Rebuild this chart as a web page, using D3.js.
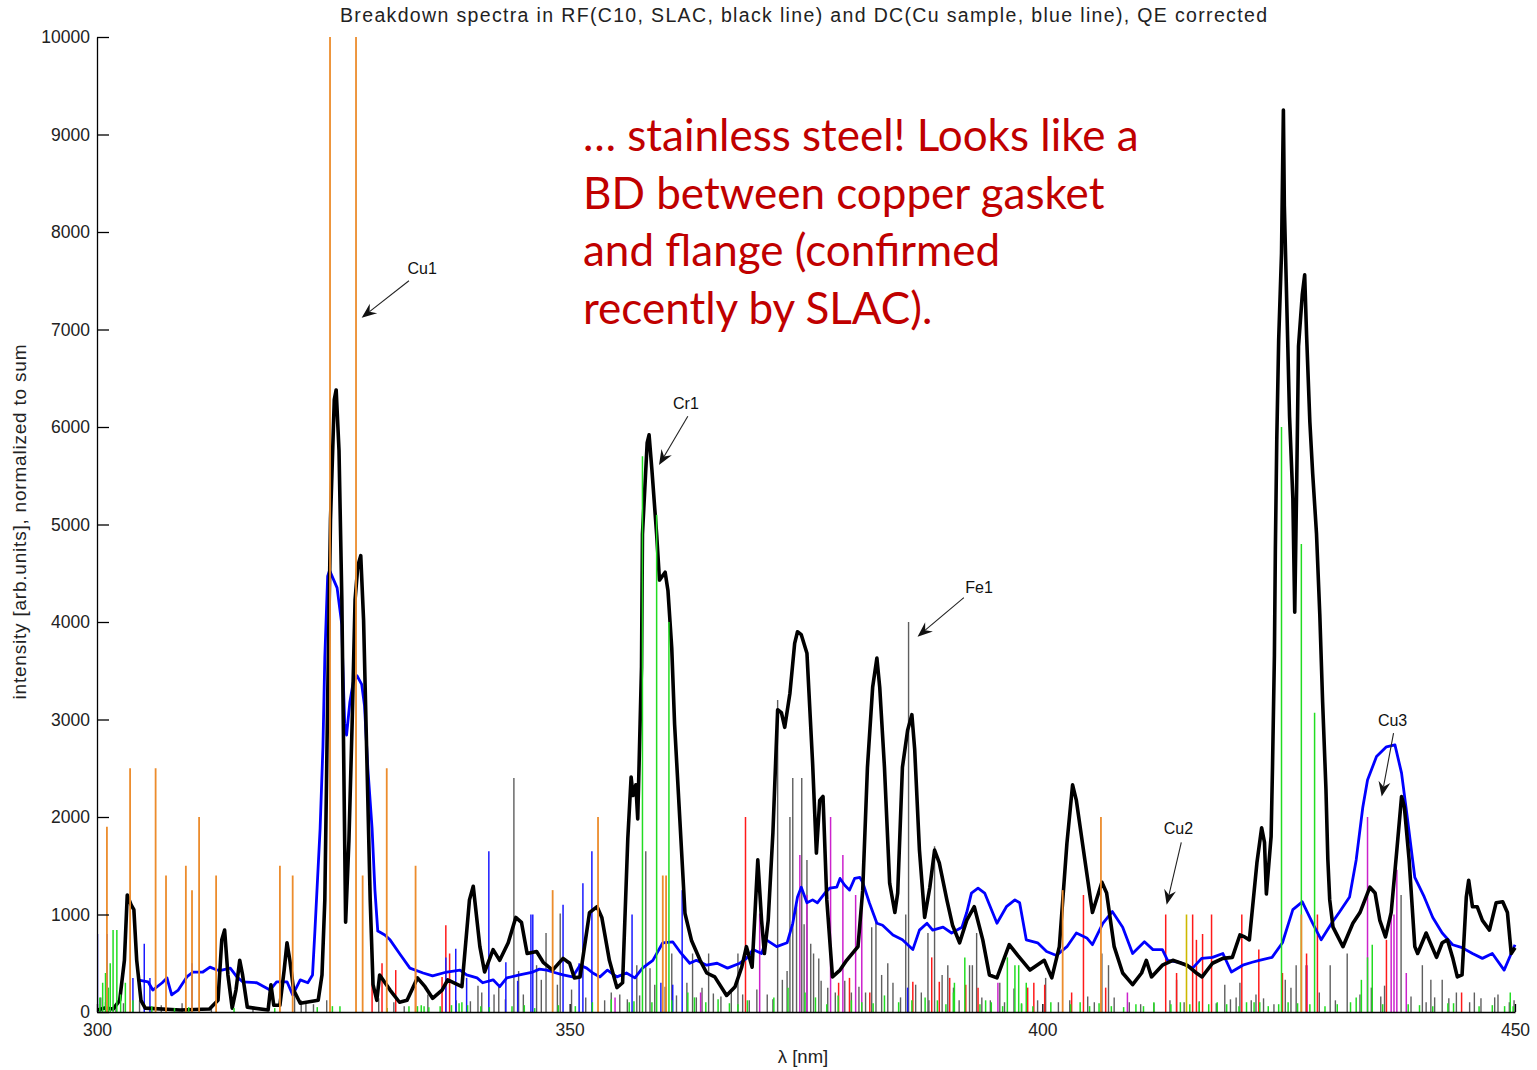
<!DOCTYPE html>
<html>
<head>
<meta charset="utf-8">
<script src="https://cdn.jsdelivr.net/npm/d3@7"></script>
<style>
  html, body { margin: 0; padding: 0; background: #fff; }
  svg { display: block; }
  .axis text { font-family: "Liberation Sans", Arial, sans-serif; font-size: 17.5px; fill: #222; }
  .axis path, .axis line { stroke: #000; stroke-width: 1.3px; }
</style>
</head>
<body>
<svg id="chart" width="1537" height="1070"></svg>
<script>
// ---- spectra: [wavelength nm, intensity] ----
const rfSpectrum = [
  [300.0,20],[300.85,40],[301.7,30],[302.4,120],[302.9,530],[303.2,1200],[303.6,1100],[303.9,1050],
  [304.2,530],[304.65,120],[305.1,40],[308.8,20],[311.9,30],[312.8,120],[313.2,740],[313.5,840],
  [313.85,380],[314.3,40],[314.7,225],[315.1,530],[315.4,380],[315.9,50],[318.1,20],[318.4,280],
  [318.7,70],[319.35,70],[319.8,430],[320.1,710],[320.4,530],[320.8,225],[321.5,90],[323.4,120],
  [323.8,380],[324.1,1150],[324.4,3200],[324.7,5050],[325.1,6280],[325.3,6380],[325.6,5760],
  [325.9,4230],[326.1,2580],[326.3,920],[326.65,1760],[327.0,3000],[327.3,4230],[327.6,4580],
  [327.9,4680],[328.2,4020],[328.55,2580],[328.9,1150],[329.2,280],[329.6,120],[329.9,380],
  [331.0,225],[332.0,100],[332.8,120],[333.9,350],[334.7,260],[335.5,140],[336.5,225],[337.1,330],
  [338.6,260],[339.4,1150],[339.8,1290],[340.5,670],[341.0,410],[341.9,640],[342.6,530],[343.5,710],
  [344.3,970],[344.9,920],[345.5,600],[346.5,620],[347.2,510],[348.2,430],[349.3,550],[350.0,500],
  [350.5,350],[351.1,360],[352.1,1020],[352.9,1080],[353.4,970],[354.2,530],[355.0,250],[355.6,300],
  [356.15,1780],[356.5,2410],[356.7,2220],[357.0,2330],[357.2,1980],[357.6,3540],[357.7,4900],
  [358.2,5840],[358.4,5920],[358.7,5560],[359.2,4900],[359.5,4430],[360.1,4510],[360.4,4320],
  [360.8,3730],[361.1,2950],[361.65,1980],[362.2,1010],[362.9,730],[363.8,530],[364.5,400],
  [365.35,360],[366.6,170],[367.5,260],[368.2,460],[368.7,670],[369.3,460],[369.9,1560],[370.3,940],
  [370.6,600],[371.0,940],[371.5,1840],[372.0,3100],[372.4,3070],[372.75,2920],[373.3,3270],
  [373.8,3780],[374.1,3900],[374.5,3870],[375.1,3680],[375.7,2550],[376.1,1630],[376.45,2170],
  [376.8,2210],[377.2,1150],[377.8,360],[378.6,430],[379.3,530],[380.5,670],[381.0,1250],[381.5,2510],
  [382.05,3330],[382.5,3630],[382.8,3330],[383.3,2510],[383.85,1320],[384.4,1020],[384.7,1220],
  [385.2,2510],[385.75,2890],[386.2,3050],[386.5,2690],[387.0,1660],[387.55,970],[388.1,1280],
  [388.6,1660],[389.1,1530],[389.9,1150],[390.5,890],[391.25,710],[392.0,940],[392.8,1080],[393.7,740],
  [394.4,380],[395.2,350],[396.5,690],[397.4,580],[398.7,430],[400.2,530],[401.0,350],[401.8,670],
  [402.6,1730],[403.2,2330],[403.6,2170],[404.5,1560],[405.3,1020],[406.3,1330],[406.8,1220],
  [407.6,670],[408.5,400],[409.55,280],[410.5,400],[411.0,530],[411.55,360],[412.7,480],[413.8,530],
  [415.3,480],[416.3,400],[416.9,360],[418.0,500],[419.1,550],[420.1,560],[420.9,790],[421.4,770],
  [421.9,740],[422.7,1530],[423.2,1890],[423.5,1740],[423.7,1210],[424.2,1800],[424.35,2520],
  [424.55,3660],[424.65,4740],[424.8,5870],[425.0,6890],[425.3,7780],[425.5,9250],[425.6,8270],
  [425.8,7490],[426.15,6110],[426.5,5270],[426.7,4100],[426.9,5380],[427.1,6830],[427.5,7360],
  [427.75,7560],[427.95,6950],[428.3,6050],[428.6,5520],[429.0,4910],[429.35,4080],[429.65,3180],
  [430.0,2290],[430.2,1570],[430.4,1150],[430.75,870],[431.8,670],[432.85,910],[433.6,1020],
  [434.65,1280],[435.2,1220],[435.7,940],[436.3,770],[436.9,1020],[437.5,1660],[438.0,2210],
  [438.3,2100],[438.8,1560],[439.4,670],[439.7,600],[440.6,810],[441.7,560],[442.3,710],[442.85,740],
  [443.4,560],[443.9,360],[444.4,380],[444.85,1180],[445.1,1350],[445.5,1080],[446.0,1080],
  [446.55,940],[447.3,840],[448.0,1120],[448.7,1130],[449.2,1020],[449.6,600],[450.0,660]
];

const dcSpectrum = [
  [304.3,330],[305.4,310],[305.9,225],[306.9,300],[307.4,350],[307.9,175],[308.6,225],[309.5,360],
  [310.15,410],[311.2,410],[311.95,460],[312.7,430],[313.2,430],[314.1,450],[314.8,360],[315.4,310],
  [316.9,300],[318.3,225],[319.0,310],[320.1,310],[320.7,175],[321.5,330],[322.3,300],[322.8,380],
  [323.05,830],[323.6,1880],[323.9,2720],[324.1,3640],[324.4,4470],[324.6,4530],[325.4,4350],
  [325.9,3970],[326.0,3560],[326.2,2960],[326.4,2840],[326.75,3180],[327.1,3380],[327.5,3450],
  [328.0,3360],[328.3,3140],[328.65,2500],[329.1,1880],[329.4,1250],[329.7,830],[329.9,820],
  [330.45,790],[331.0,740],[332.0,600],[333.1,450],[334.5,400],[335.5,370],[337.0,410],[338.4,430],
  [339.1,380],[340.2,350],[340.8,300],[341.9,330],[342.6,260],[343.35,350],[344.7,380],[346.1,410],
  [346.8,440],[347.6,430],[348.2,410],[349.3,380],[350.3,360],[351.1,480],[351.8,450],[352.45,400],
  [353.2,360],[354.0,430],[355.0,360],[356.0,400],[356.9,350],[357.7,450],[358.8,530],[359.85,710],
  [360.9,720],[361.65,620],[362.7,500],[363.4,530],[364.5,480],[365.6,500],[366.7,450],[368.0,500],
  [368.7,550],[369.4,640],[370.3,600],[370.8,740],[371.9,670],[373.0,710],[373.6,910],[374.1,1180],
  [374.5,1280],[375.1,1120],[375.7,1150],[376.2,1120],[377.0,1220],[377.5,1270],[378.25,1280],
  [378.6,1370],[379.1,1300],[379.6,1250],[380.15,1370],[380.7,1380],[381.0,1330],[381.7,1120],
  [382.5,910],[383.1,890],[384.2,790],[385.2,740],[386.3,640],[387.0,840],[387.8,910],[388.4,840],
  [389.5,870],[390.4,810],[391.5,870],[392.0,1020],[392.5,1220],[393.2,1270],[393.9,1220],[395.2,910],
  [396.2,1080],[397.1,1150],[397.6,1120],[398.3,740],[399.5,710],[400.45,620],[401.5,580],[402.6,670],
  [403.6,810],[404.7,760],[405.3,690],[406.4,910],[407.4,1030],[408.5,870],[409.55,600],[410.8,720],
  [411.7,640],[412.7,640],[413.25,530],[414.5,510],[415.9,450],[416.85,550],[418.0,560],[419.1,600],
  [420.0,410],[421.2,480],[422.2,510],[422.95,530],[424.3,560],[425.4,710],[426.5,1050],[427.5,1130],
  [428.6,910],[429.5,740],[430.6,910],[431.4,1020],[432.5,1180],[433.2,1560],[433.9,2100],[434.4,2380],
  [435.35,2620],[436.4,2720],[437.3,2740],[438.0,2450],[438.6,2000],[439.4,1380],[440.4,1180],
  [441.3,970],[442.3,810],[443.4,690],[444.4,660],[445.5,600],[446.55,550],[447.6,600],[448.85,430],
  [449.6,600],[450.0,690]
];

// ---- reference line lists: [wavelength nm, relative intensity] ----
const orangeLines = [
  [301.05,1900],[303.5,2500],[306.2,2500],[307.3,1400],[309.4,1500],[310.05,1250],[310.8,2000],
  [312.6,1400],[319.35,1500],[320.7,1400],[324.65,12000],[327.4,12000],[328.1,1400],[330.65,2500],
  [333.7,1500],[348.2,1250],[353.0,2000],[359.85,1400],[360.2,1400],[402.15,1250],[406.2,2000],
  [427.4,1000]
];
const yellowLines = [[415.25,1000]];
const greenLines = [
  [300.3,150],[300.6,300],[300.9,400],[301.2,250],[301.4,500],[301.7,840],[302.1,840],[302.5,180],
  [303.0,300],[303.8,120],[305.8,60],[308.2,40],[309.7,50],[314.5,40],[318.8,40],[323.3,50],[324.9,60],
  [325.7,60],[330.7,40],[333.0,60],[333.9,60],[334.3,70],[334.6,60],[335.1,50],[336.3,60],[337.5,70],
  [338.3,90],[338.6,100],[339.2,70],[340.6,60],[341.5,50],[343.9,60],[345.2,70],[346.3,40],[348.8,70],
  [350.6,60],[352.4,100],[354.4,130],[356.3,100],[356.8,110],[357.7,5700],[358.7,100],[359.2,5100],
  [360.5,4000],[360.8,120],[362.5,200],[363.2,150],[364.4,100],[365.7,130],[366.9,90],[367.8,80],
  [368.8,120],[371.6,150],[373.1,250],[374.9,200],[376.0,150],[377.2,80],[378.4,170],[379.8,120],
  [380.9,100],[382.1,90],[383.3,170],[384.8,100],[386.2,120],[387.6,150],[388.9,120],[389.8,80],
  [390.6,200],[390.7,300],[391.8,560],[393.4,80],[394.0,120],[394.6,100],[395.8,60],[396.3,560],
  [397.1,480],[397.5,480],[397.8,90],[398.3,300],[399.0,60],[400.9,100],[403.0,80],[404.0,100],
  [405.0,60],[406.0,90],[407.3,60],[408.6,50],[409.9,80],[410.7,60],[411.8,100],[413.6,80],[414.6,100],
  [415.6,80],[416.6,100],[417.6,80],[418.5,100],[419.5,80],[420.8,60],[421.6,100],[422.4,100],
  [423.0,100],[423.9,60],[425.0,80],[425.3,6000],[426.0,100],[427.0,90],[427.4,4800],[428.3,80],
  [428.8,3070],[429.9,60],[431.2,80],[432.6,100],[433.2,150],[433.75,330],[434.4,560],[434.9,690],
  [436.0,80],[438.7,80],[439.9,70],[441.3,60],[442.9,90],[443.5,90],[446.2,60],[447.6,70],[448.9,60],
  [449.5,200],[449.8,60]
];
const redLines = [
  [329.1,650],[330.15,500],[331.6,430],[333.7,430],[336.5,360],[336.9,890],[337.3,600],[368.6,2000],
  [378.45,300],[379.6,350],[381.75,200],[386.3,310],[388.3,560],[389.1,310],[390.2,350],[391.9,280],
  [393.2,250],[398.45,250],[399.1,300],[400.25,280],[403.1,200],[404.35,1200],[406.7,250],[413.05,1000],
  [414.2,400],[415.9,1000],[416.3,740],[416.95,800],[417.9,1000],[421.1,1000],[422.9,640],[425.4,400],
  [427.95,600],[429.1,1000],[436.4,740],[444.35,200]
];
const blueLines = [
  [300.05,800],[301.05,800],[303.8,350],[305.0,700],[305.6,350],[310.05,500],[336.9,560],[337.95,650],
  [339.1,350],[341.45,1650],[343.25,510],[344.5,320],[345.9,1000],[346.1,1000],[349.3,1100],[351.0,500],
  [351.4,1320],[352.35,1650],[356.6,1000],[359.65,300],[360.9,280],[361.9,1250],[385.75,250]
];
const grayLines = [
  [300.4,150],[300.9,100],[302.0,80],[302.8,90],[304.5,120],[306.8,70],[309.0,90],[312.1,60],[316.5,50],
  [320.9,200],[321.6,120],[322.1,90],[322.9,80],[324.3,120],[329.8,140],[331.4,100],[332.5,60],
  [335.0,180],[338.0,120],[339.5,110],[340.3,270],[340.7,200],[342.0,180],[342.5,260],[343.2,130],
  [344.1,2400],[344.6,420],[345.1,180],[346.5,480],[347.0,330],[347.5,810],[348.7,280],[349.0,1010],
  [350.2,230],[351.7,150],[353.7,120],[354.4,200],[355.3,180],[356.1,130],[357.1,480],[357.4,170],
  [358.05,1650],[358.5,450],[359.0,280],[360.1,260],[360.8,600],[361.3,170],[362.4,300],[363.0,600],
  [363.4,150],[364.0,250],[364.7,600],[365.2,190],[366.0,160],[367.1,210],[367.8,600],[368.3,180],
  [369.0,120],[369.8,230],[370.9,180],[371.5,130],[372.0,3200],[372.5,330],[373.0,420],[373.3,2000],
  [373.6,2400],[374.0,1100],[374.55,2400],[374.8,900],[375.1,1560],[375.5,700],[375.8,600],[376.35,550],
  [376.6,320],[377.3,250],[378.1,200],[379.1,320],[379.8,200],[380.6,260],[381.3,200],[381.95,870],
  [382.4,940],[383.0,380],[383.65,500],[384.2,300],[385.0,150],[385.55,1000],[385.85,4000],[386.6,280],
  [387.2,200],[387.9,810],[388.0,120],[388.6,1700],[389.4,380],[390.0,480],[390.6,250],[391.2,120],
  [392.3,480],[392.6,480],[393.05,810],[393.6,150],[394.5,120],[395.5,300],[396.0,100],[397.0,240],
  [397.8,80],[399.5,120],[400.35,350],[401.7,100],[402.9,120],[404.8,160],[405.5,100],[406.3,600],
  [407.0,480],[407.6,150],[409.2,100],[410.4,80],[411.8,90],[413.5,120],[414.2,330],[415.0,100],
  [416.6,110],[418.4,90],[419.3,280],[419.9,130],[420.5,150],[420.9,300],[422.1,120],[422.6,180],
  [423.4,140],[424.5,80],[425.7,330],[426.3,250],[426.85,480],[427.9,480],[429.3,200],[430.45,480],
  [431.0,120],[432.25,600],[433.6,180],[434.8,250],[435.8,160],[436.2,270],[437.95,1200],[439.0,160],
  [440.2,480],[440.6,100],[441.1,330],[441.5,150],[442.3,330],[443.0,140],[443.8,200],[445.2,100],
  [445.7,200],[446.4,140],[447.85,150],[448.2,180],[449.4,100],[449.9,120]
];
const magentaLines = [
  [354.8,150],[363.85,200],[370.1,1010],[374.35,1610],[375.1,1200],[377.6,2000],[378.9,1610],
  [380.25,1200],[380.9,1200],[395.3,300],[409.0,200],[428.0,480],[434.4,2000],[436.9,1000],
  [437.2,1000],[437.5,1460],[438.5,400]
];

// ---- peak labels: [label, text λ, text I, arrow-tail λ, arrow-tail I, arrow-tip λ, arrow-tip I] ----
const peakLabels = [
  ["Cu1", 334.4, 7630, 333.0, 7500, 328.0, 7120],
  ["Cr1", 362.3, 6250, 362.5, 6110, 359.45, 5610],
  ["Fe1", 393.3, 4360, 391.7, 4250, 386.8, 3850],
  ["Cu2", 414.4, 1890, 414.7, 1740, 413.15, 1100],
  ["Cu3", 437.05, 2990, 437.15, 2860, 435.9, 2210]
];

const noteLines = [
  "\u2026 stainless steel! Looks like a",
  "BD between copper gasket",
  "and flange (confirmed",
  "recently by SLAC)."
];

const titleText = "Breakdown spectra in RF(C10, SLAC, black line) and DC(Cu sample, blue line), QE corrected";
const yLabelText = "intensity [arb.units], normalized to sum";
const xLabelText = "\u03bb [nm]";
const xTicks = [300, 350, 400, 450];
const yTicks = [0, 1000, 2000, 3000, 4000, 5000, 6000, 7000, 8000, 9000, 10000];

// ---- layout ----
const svg = d3.select("#chart");
const plot = { left: 97, right: 1515, top: 37, bottom: 1012 };

const x = d3.scaleLinear().domain([300, 450]).range([plot.left, plot.right]);
const y = d3.scaleLinear().domain([0, 10000]).range([plot.bottom, plot.top]);

svg.append("defs").append("clipPath").attr("id", "plotClip")
  .append("rect")
  .attr("x", plot.left).attr("y", plot.top)
  .attr("width", plot.right - plot.left + 2).attr("height", plot.bottom - plot.top);

const g = svg.append("g").attr("clip-path", "url(#plotClip)");

function drawSticks(data, color, width) {
  g.append("g").selectAll("line").data(data).join("line")
    .attr("x1", d => x(d[0])).attr("x2", d => x(d[0]))
    .attr("y1", y(0)).attr("y2", d => y(d[1]))
    .attr("stroke", color).attr("stroke-width", width);
}

drawSticks(grayLines, "#5f5f5f", 1.4);
drawSticks(magentaLines, "#cc22cc", 1.5);
drawSticks(redLines, "#ff1a1a", 1.5);
drawSticks(blueLines, "#1a1aff", 1.5);

const line = d3.line().x(d => x(d[0])).y(d => y(d[1]));

g.append("path").datum(dcSpectrum)
  .attr("d", line).attr("fill", "none")
  .attr("stroke", "#0000ff").attr("stroke-width", 2.8).attr("stroke-linejoin", "round");

g.append("path").datum(rfSpectrum)
  .attr("d", line).attr("fill", "none")
  .attr("stroke", "#000").attr("stroke-width", 3.6).attr("stroke-linejoin", "round");

drawSticks(greenLines, "#22dd22", 1.5);
drawSticks(orangeLines, "#ec8c2c", 1.8);
drawSticks(yellowLines, "#cdb800", 1.6);

// ---- axes ----
const yAxis = d3.axisLeft(y).tickValues(yTicks).tickFormat(d3.format("d"))
  .tickSizeInner(-12).tickSizeOuter(0).tickPadding(7);
svg.append("g").attr("class", "axis").attr("transform", `translate(${plot.left},0)`).call(yAxis);

const xAxis = d3.axisBottom(x).tickValues(xTicks).tickFormat(d3.format("d"))
  .tickSizeInner(-8).tickSizeOuter(0).tickPadding(12);
svg.append("g").attr("class", "axis").attr("transform", `translate(0,${plot.bottom})`).call(xAxis);

// ---- titles ----
svg.append("text")
  .attr("x", 803.5).attr("y", 22)
  .attr("text-anchor", "middle")
  .attr("font-family", "Liberation Sans, Arial, sans-serif").attr("font-size", 19.5)
  .attr("fill", "#222")
  .attr("textLength", 927).attr("lengthAdjust", "spacing")
  .text(titleText);

svg.append("text")
  .attr("transform", `translate(26,522) rotate(-90)`)
  .attr("text-anchor", "middle")
  .attr("font-family", "Liberation Sans, Arial, sans-serif").attr("font-size", 19)
  .attr("fill", "#222")
  .attr("textLength", 355).attr("lengthAdjust", "spacing")
  .text(yLabelText);

svg.append("text")
  .attr("x", 803).attr("y", 1063)
  .attr("text-anchor", "middle")
  .attr("font-family", "Liberation Sans, Arial, sans-serif").attr("font-size", 18.5)
  .attr("fill", "#222")
  .text(xLabelText);

// ---- peak labels with arrows ----
const ann = svg.append("g");
peakLabels.forEach(([label, tx, ty, ax, ay, hx, hy]) => {
  ann.append("text")
    .attr("x", x(tx)).attr("y", y(ty) + 6)
    .attr("text-anchor", "middle")
    .attr("font-family", "Liberation Sans, Arial, sans-serif").attr("font-size", 16)
    .attr("fill", "#111")
    .text(label);
  const x1 = x(ax), y1 = y(ay), x2 = x(hx), y2 = y(hy);
  const ang = Math.atan2(y2 - y1, x2 - x1);
  const len = 15, half = 6, notch = 10;
  const bx = x2 - len * Math.cos(ang), by = y2 - len * Math.sin(ang);
  const nx = x2 - notch * Math.cos(ang), ny = y2 - notch * Math.sin(ang);
  const px = -Math.sin(ang), py = Math.cos(ang);
  ann.append("line")
    .attr("x1", x1).attr("y1", y1).attr("x2", nx).attr("y2", ny)
    .attr("stroke", "#222").attr("stroke-width", 1.1);
  ann.append("path")
    .attr("d", `M${x2},${y2} L${bx + half * px},${by + half * py} L${nx},${ny} L${bx - half * px},${by - half * py} Z`)
    .attr("fill", "#111");
});

// ---- red note ----
const note = svg.append("text")
  .attr("font-family", "Lato, 'Open Sans', sans-serif").attr("font-size", 44)
  .attr("fill", "#c00000");
noteLines.forEach((t, i) => {
  note.append("tspan")
    .attr("x", 583).attr("y", 151 + i * 57.6)
    .text(t);
});
</script>
</body>
</html>
